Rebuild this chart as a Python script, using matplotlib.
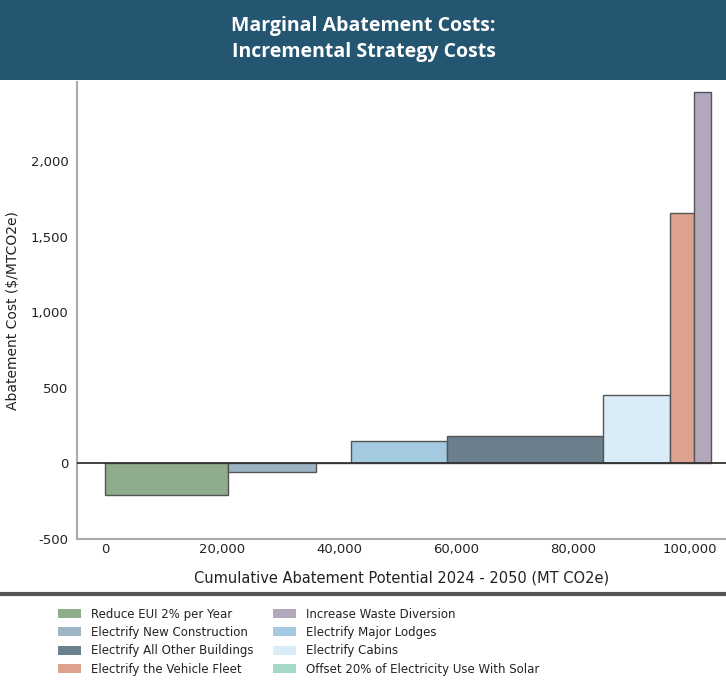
import numpy as np
import matplotlib.pyplot as plt
from matplotlib.patches import Rectangle, Patch
from matplotlib.lines import Line2D

# strategies in bar order (left to right)
strategies = ['Reduce EUI 2% per Year', 'Electrify New Construction',
              'Offset 20% of Electricity Use With Solar', 'Electrify Major Lodges',
              'Electrify All Other Buildings', 'Electrify Cabins',
              'Electrify the Vehicle Fleet', 'Increase Waste Diversion']
# abatement potential (MT CO2e) = bar widths
potential = [21000, 15000, 6000, 16400, 26700, 11600, 4100, 2900]
# abatement cost ($/MTCO2e) = bar heights
cost = [-210, -55, 0, 146, 183, 450, 1660, 2460]
colors = ['#8fac8c', '#9db4c4', '#a5d8c8', '#a3cae0',
          '#6b7f8c', '#d9ecf7', '#dca28e', '#b3a7bc']

# legend order as in the reference
legend_order = ['Reduce EUI 2% per Year', 'Electrify New Construction',
                'Electrify All Other Buildings', 'Electrify the Vehicle Fleet',
                'Increase Waste Diversion', 'Electrify Major Lodges',
                'Electrify Cabins', 'Offset 20% of Electricity Use With Solar']

xticks = [0, 20000, 40000, 60000, 80000, 100000]
yticks = [-500, 0, 500, 1000, 1500, 2000]

fig = plt.figure(figsize=(7.26, 6.81), dpi=100)

# header band
fig.patches.append(Rectangle((0, 1 - 80 / 681), 1, 80 / 681, transform=fig.transFigure,
                             facecolor='#245672', edgecolor='none', zorder=0))
fig.text(0.501, 1 - 26 / 681, 'Marginal Abatement Costs:', color='white', fontsize=14,
         fontweight='bold', ha='center', va='center', family='Open Sans')
fig.text(0.501, 1 - 52 / 681, 'Incremental Strategy Costs', color='white', fontsize=14,
         fontweight='bold', ha='center', va='center', family='Open Sans')

ax = fig.add_axes([77 / 726, 142 / 681, 1 - 77 / 726, (539 - 82) / 681])
ax.set_zorder(-1)

lefts = np.concatenate([[0], np.cumsum(potential)[:-1]])
ax.bar(lefts, cost, width=potential, align='edge', color=colors,
       edgecolor='#555555', linewidth=1.0, zorder=2)
ax.axhline(0, color='#333333', lw=1.3, zorder=3)

ax.set_xlim(-4800, 106200)
ax.set_ylim(-500, 2525)
ax.set_xticks(xticks)
ax.set_xticklabels(['{:,}'.format(v) for v in xticks])
ax.set_yticks(yticks)
ax.set_yticklabels(['{:,}'.format(v) for v in yticks])
ax.tick_params(length=0, labelsize=9.5, colors='#222222', pad=6)
ax.tick_params(axis='x', pad=3)
for s in ['top', 'right']:
    ax.spines[s].set_visible(False)
for s in ['left', 'bottom']:
    ax.spines[s].set_color('#aaaaaa')
    ax.spines[s].set_linewidth(1.5)
ax.set_xlabel('Cumulative Abatement Potential 2024 - 2050 (MT CO2e)', fontsize=10.5,
              color='#222222', labelpad=10)
ax.set_ylabel('Abatement Cost ($/MTCO2e)', fontsize=10, color='#222222', labelpad=8)

# separator line above legend
fig.add_artist(Line2D([0, 1], [1 - 594 / 681] * 2, transform=fig.transFigure,
                      color='#555555', lw=3))

handles = [Patch(facecolor=colors[strategies.index(n)], edgecolor='none') for n in legend_order]
fig.legend(handles, legend_order, loc='upper left', bbox_to_anchor=(0.065, 1 - 597 / 681),
           ncol=2, frameon=False, fontsize=8.5, handlelength=2.0, handleheight=0.8,
           handletextpad=0.85, columnspacing=1.6, labelspacing=0.46, labelcolor='#222222')

fig.savefig('out.png', dpi=100)
